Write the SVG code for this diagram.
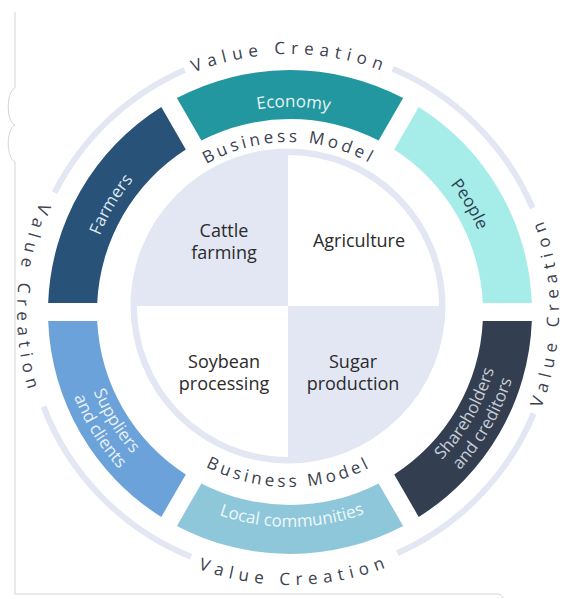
<svg xmlns="http://www.w3.org/2000/svg" width="563" height="599" viewBox="0 0 563 599">
<style>
text { font-family: "Open Sans", "Noto Sans", "DejaVu Sans", sans-serif; }
.vc { font-size: 17px; fill: #3b4150; letter-spacing: 5.8px; }
.bm { font-size: 17px; fill: #3b4150; letter-spacing: 3.5px; }
.lbl { font-size: 17px; }
.q { font-size: 18px; fill: #2b2b2b; text-anchor: middle; }
.ring { fill: none; stroke: #e2e7f3; }
.frame { fill: none; stroke: #d4d4d4; stroke-width: 1; }
</style>
<defs>
<path id="pVcTop" d="M35.92,267.2 A258,258 0 0 1 544.08,267.2"/>
<path id="pVcLeft" d="M256.73,41.03 A273,273 0 0 0 228.59,578"/>
<path id="pVcRight" d="M336.71,576.91 A269,269 0 0 0 336.71,47.09"/>
<path id="pVcBottom" d="M22.02,364.09 A273,273 0 0 0 559.64,354.71"/>
<path id="pBmTop" d="M126.51,278.35 A165,165 0 0 1 451.49,278.35"/>
<path id="pBmBottom" d="M111.73,338.26 A180,180 0 0 0 466.27,338.26"/>
<path id="pEco" d="M88.77,272.88 A205,205 0 0 1 492.48,279.93"/>
<path id="pFarm" d="M155.51,466.72 A205,205 0 0 1 363.47,120.62"/>
<path id="pPeople" d="M216.53,120.62 A205,205 0 0 1 424.49,466.72"/>
<path id="pLocal" d="M78.6,351.18 A215,215 0 0 0 502.05,347.49"/>
<path id="pSup1" d="M148.15,154.46 A212,212 0 0 0 369.42,508.56"/>
<path id="pSup2" d="M134.76,139.59 A232,232 0 0 0 376.91,527.11"/>
<path id="pSh1" d="M217.49,511.21 A212,212 0 0 0 426.27,149.60"/>
<path id="pSh2" d="M210.65,530.01 A232,232 0 0 0 439.13,134.28"/>
</defs>
<rect x="0" y="0" width="563" height="599" fill="#ffffff"/>
<g id="frame">
<path class="frame" d="M15,12 L15,88 C6,92 6,122 15,125 C6,129 6,158 15,162 L15,594 L498,594 C501,594 502,596 503,598"/>
</g>
<g id="value-creation-ring">
<path class="ring" stroke-width="6" d="M54.6,192.6 A264,264 0 0 1 184.7,69.9"/>
<path class="ring" stroke-width="6" d="M392.7,68.8 A264,264 0 0 1 532.6,208"/>
<path class="ring" stroke-width="6" d="M533.7,413.5 A264,264 0 0 1 397.4,553.2"/>
<path class="ring" stroke-width="6" d="M191.1,556.8 A264,264 0 0 1 43.5,406.6"/>
<text class="vc" text-anchor="middle"><textPath href="#pVcTop" startOffset="50%">Value Creation</textPath></text>
<text class="vc" text-anchor="middle"><textPath href="#pVcLeft" startOffset="50%">Value Creation</textPath></text>
<text class="vc" text-anchor="middle"><textPath href="#pVcRight" startOffset="50%">Value Creation</textPath></text>
<text class="vc" text-anchor="middle"><textPath href="#pVcBottom" startOffset="50%">Value Creation</textPath></text>
</g>
<g id="economy">
<path fill="#2297a0" d="M176.88,98.07 A242,242 0 0 1 403.12,98.07 L378.6,140.54 A193,193 0 0 0 201.4,140.54 Z"/>
<text class="lbl" fill="#e6f4f4" text-anchor="middle"><textPath href="#pEco" startOffset="50%">Economy</textPath></text>
</g>
<g id="people">
<path fill="#a6ede9" d="M418.71,107.07 A242,242 0 0 1 531.83,303 L482.79,303 A193,193 0 0 0 394.19,149.54 Z"/>
<text class="lbl" fill="#2c4050" text-anchor="middle"><textPath href="#pPeople" startOffset="50%">People</textPath></text>
</g>
<g id="shareholders">
<path fill="#333e51" d="M531.83,321 A242,242 0 0 1 418.71,516.93 L394.19,474.46 A193,193 0 0 0 482.79,321 Z"/>
<text class="lbl" fill="#c9cdd5" text-anchor="middle"><textPath href="#pSh1" startOffset="50%">Shareholders</textPath><textPath href="#pSh2" startOffset="50%">and creditors</textPath></text>
</g>
<g id="local-communities">
<path fill="#8fc7da" d="M403.12,525.93 A242,242 0 0 1 176.88,525.93 L201.4,483.46 A193,193 0 0 0 378.6,483.46 Z"/>
<text class="lbl" fill="#eef7fa" text-anchor="middle"><textPath href="#pLocal" startOffset="50%">Local communities</textPath></text>
</g>
<g id="suppliers">
<path fill="#6ba2d9" d="M161.29,516.93 A242,242 0 0 1 48.17,321 L97.21,321 A193,193 0 0 0 185.81,474.46 Z"/>
<text class="lbl" fill="#eaf1fa" text-anchor="middle"><textPath href="#pSup1" startOffset="50%">Suppliers</textPath><textPath href="#pSup2" startOffset="50%">and clients</textPath></text>
</g>
<g id="farmers">
<path fill="#285277" d="M48.17,303 A242,242 0 0 1 161.29,107.07 L185.81,149.54 A193,193 0 0 0 97.21,303 Z"/>
<text class="lbl" fill="#dfe8f1" text-anchor="middle"><textPath href="#pFarm" startOffset="50%">Farmers</textPath></text>
</g>
<g id="business-model">
<circle class="ring" cx="288" cy="306" r="154" stroke-width="7"/>
<text class="bm" text-anchor="middle"><textPath href="#pBmTop" startOffset="50%">Business Model</textPath></text>
<text class="bm" text-anchor="middle"><textPath href="#pBmBottom" startOffset="50%">Business Model</textPath></text>
</g>
<g id="cattle-farming">
<path fill="#e2e7f3" d="M288,306 L137,306 A151,151 0 0 1 288,155 Z"/>
<text class="q" x="224" y="237">Cattle</text>
<text class="q" x="224" y="259">farming</text>
</g>
<g id="agriculture">
<path fill="#ffffff" d="M288,306 L288,155 A151,151 0 0 1 439,306 Z"/>
<text class="q" x="359" y="247">Agriculture</text>
</g>
<g id="soybean-processing">
<path fill="#ffffff" d="M288,306 L288,457 A151,151 0 0 1 137,306 Z"/>
<text class="q" x="224" y="368">Soybean</text>
<text class="q" x="224" y="390">processing</text>
</g>
<g id="sugar-production">
<path fill="#e2e7f3" d="M288,306 L439,306 A151,151 0 0 1 288,457 Z"/>
<text class="q" x="353" y="368">Sugar</text>
<text class="q" x="353" y="390">production</text>
</g>
<g id="connectors"/>
</svg>
